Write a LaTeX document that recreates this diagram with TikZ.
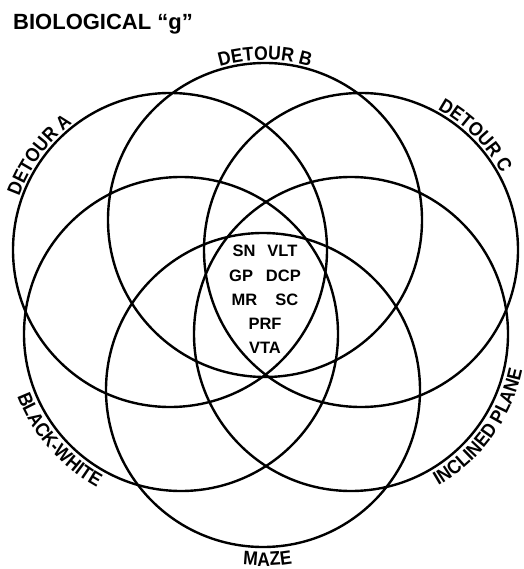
\documentclass[tikz,border=0pt]{standalone}
\usepackage{fontspec}
\setmainfont{Liberation Sans}
\newfontfamily\letterfont{Liberation Sans}[FakeStretch=0.9]
\usetikzlibrary{decorations.text}
\newcommand{\ringfont}{\letterfont\fontsize{19.5}{19.5}\selectfont\bfseries}

\begin{document}
\begin{tikzpicture}[
        x=1pt, y=1pt,
        ring/.style={draw=black, line width=2.4pt, circle, inner sep=0pt,
                     minimum size=314pt},
        ringtext/.style={decorate, decoration={text along path,
                     text align=center, text={|\ringfont|#1}}},
        tests/.style={font=\fontsize{16.5}{24.3}\selectfont\bfseries,
                     align=center, inner sep=0pt, anchor=north}
    ]
        \useasboundingbox (0,0) rectangle (523,-569);

        \node[ring] (detourA) at (170,-250) {};
        \node[ring] (detourB) at (265,-220) {};
        \node[ring] (detourC) at (361,-250) {};
        \node[ring] (blackwhite) at (181,-334) {};
        \node[ring] (inclined) at (351,-334) {};
        \node[ring] (maze) at (263,-390) {};

        \path[ringtext={DETOUR A}] (detourA.center) ++(184:160)
            arc[start angle=184, end angle=104, radius=160];
        \path[ringtext={DETOUR B}] (detourB.center) ++(130:160)
            arc[start angle=130, end angle=50, radius=160];
        \path[ringtext={DETOUR C}] (detourC.center) ++(85:160)
            arc[start angle=85, end angle=5, radius=160];
        \path[ringtext={BLACK-WHITE}] (blackwhite.center) ++(181:175)
            arc[start angle=181, end angle=261, radius=175];
        \path[ringtext={INCLINED PLANE}] (inclined.center) ++(284:175)
            arc[start angle=284, end angle=364, radius=175];
        \path[ringtext={MAZE}] (maze.center) ++(231.5:176)
            arc[start angle=231.5, end angle=311.5, radius=176];

        \node[font=\fontsize{22}{22}\selectfont\bfseries, anchor=base west,
              inner sep=0pt] (title) at (13,-29.5) {BIOLOGICAL ``g''};

        \node[tests] (common) at (265,-245)
            {SN\hspace{12pt}VLT\\GP\hspace{13pt}DCP\\MR\hspace{18pt}SC\\PRF\\VTA};
    \end{tikzpicture}
\end{document}
